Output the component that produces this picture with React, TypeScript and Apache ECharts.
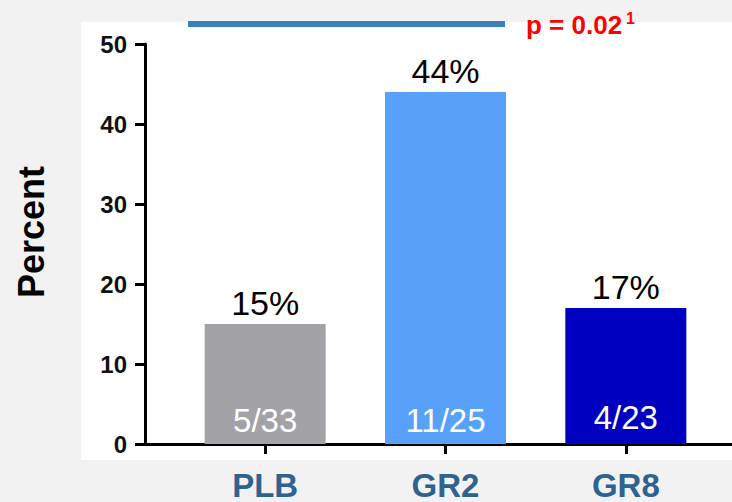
import React, { useEffect, useRef } from "react";
import * as echarts from "echarts";

const categories = ["PLB", "GR2", "GR8"];
const percents = [15, 44, 17];
const fractions = ["5/33", "11/25", "4/23"];
const barColors = ["#a3a2a7", "#57a1fb", "#0000c0"];
const yMin = 0;
const yMax = 50;
const yInterval = 10;
const yTitle = "Percent";
const pText = "p = 0.02";
const pSup = "1";

export default function App() {
  const ref = useRef<HTMLDivElement>(null);
  useEffect(() => {
    if (!ref.current) return;
    const chart = echarts.init(ref.current, null, { renderer: "svg" });
    const font = "Liberation Sans, Arial, sans-serif";
    chart.setOption({
      animation: false,
      backgroundColor: "#f2f2f2",
      graphic: [
        {
          type: "rect",
          z: -100,
          shape: { x: 81, y: 22, width: 660, height: 438 },
          style: { fill: "#ffffff" },
        },
        {
          type: "line",
          shape: { x1: 188, y1: 24, x2: 505, y2: 24 },
          style: { stroke: "#3b7fbb", lineWidth: 6 },
        },
        {
          type: "text",
          x: 526,
          y: 25,
          style: {
            text: pText,
            fill: "#ff0000",
            font: `bold 26px ${font}`,
            verticalAlign: "middle",
          },
        },
        {
          type: "text",
          x: 626,
          y: 10,
          style: {
            text: pSup,
            fill: "#ff0000",
            font: `bold 16px ${font}`,
            verticalAlign: "top",
          },
        },
        {
          type: "text",
          x: 31,
          y: 232,
          rotation: Math.PI / 2,
          style: {
            text: yTitle,
            fill: "#000",
            font: `bold 36px ${font}`,
            align: "center",
            verticalAlign: "middle",
          },
        },
      ],
      grid: [
        { left: 175, width: 541, top: 44, height: 400 },
        { left: 145, right: 0, top: 44, height: 400 },
      ],
      xAxis: [
        {
          type: "category",
          gridIndex: 0,
          data: categories,
          axisLine: { show: false },
          axisTick: {
            show: true,
            alignWithLabel: true,
            length: 10,
            lineStyle: { color: "#000", width: 3 },
          },
          axisLabel: {
            color: "#2e6391",
            fontSize: 33,
            fontWeight: "bold",
            fontFamily: font,
            lineHeight: 32,
            margin: 25,
          },
        },
        {
          type: "value",
          gridIndex: 1,
          min: 0,
          max: 1,
          axisLine: { show: true, onZero: false, lineStyle: { color: "#000", width: 3 } },
          axisTick: { show: false },
          axisLabel: { show: false },
          splitLine: { show: false },
        },
      ],
      yAxis: [
        {
          type: "value",
          gridIndex: 0,
          min: yMin,
          max: yMax,
          interval: yInterval,
          offset: 30,
          axisLine: { show: true, lineStyle: { color: "#000", width: 3 } },
          axisTick: { show: true, length: 10, lineStyle: { color: "#000", width: 3 } },
          axisLabel: {
            color: "#111",
            fontSize: 24,
            fontWeight: "bold",
            fontFamily: font,
            margin: 18,
          },
          splitLine: { show: false },
        },
        { type: "value", gridIndex: 1, show: false, min: 0, max: 1 },
      ],
      series: [
        {
          type: "bar",
          xAxisIndex: 0,
          yAxisIndex: 0,
          barWidth: 121,
          data: percents.map((v, i) => ({ value: v, itemStyle: { color: barColors[i] } })),
          label: {
            show: true,
            position: "top",
            distance: 4,
            formatter: "{c}%",
            color: "#000",
            fontSize: 34,
            fontFamily: font,
          },
        },
        {
          type: "bar",
          xAxisIndex: 0,
          yAxisIndex: 0,
          barWidth: 121,
          barGap: "-100%",
          data: percents.map((v, i) => ({
            value: v,
            label: { distance: i === 2 ? 10 : 7 },
          })),
          itemStyle: { color: "rgba(0,0,0,0)" },
          label: {
            show: true,
            position: "insideBottom",
            distance: 7,
            formatter: (p: any) => fractions[p.dataIndex],
            color: "#fff",
            fontSize: 33,
            fontFamily: font,
          },
        },
      ],
    });
    return () => chart.dispose();
  }, []);
  return (
    <div
      ref={ref}
      style={{ position: "fixed", left: 0, top: 0, width: 732, height: 502 }}
    />
  );
}
